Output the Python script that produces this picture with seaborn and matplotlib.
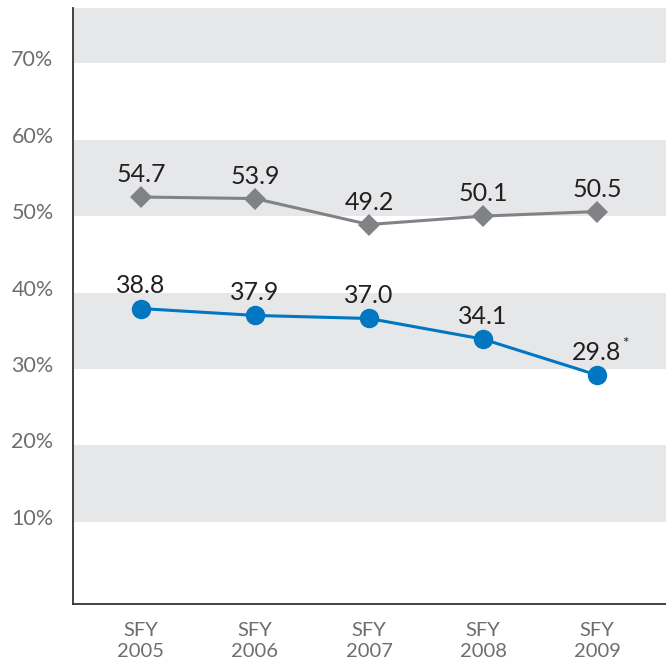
import matplotlib
matplotlib.use('Agg')
import matplotlib.pyplot as plt
import matplotlib.transforms as mtrans
import seaborn as sns
import pandas as pd

# Data
years = ['2005', '2006', '2007', '2008', '2009']
gray_labels = ['54.7', '53.9', '49.2', '50.1', '50.5']
gray_plotted = [52.5, 52.3, 48.9, 50.0, 50.6]   # where the markers sit in the picture
blue_labels = ['38.8', '37.9', '37.0', '34.1', '29.8']
blue_plotted = [37.9, 37.0, 36.6, 33.9, 29.2]
blue_notes = ['', '', '', '', '*']
y_ticks = [10, 20, 30, 40, 50, 60, 70]

GRAY = '#808285'
BLUE = '#0077c0'
BAND = '#e6e7e8'
TEXT = '#231f20'
TICK = '#6d6e71'

sns.set_theme(style='white')
plt.rcParams['font.family'] = ['Lato', 'DejaVu Sans']

df = pd.DataFrame({
    'pos': list(range(len(years))) * 2,
    'value': gray_plotted + blue_plotted,
    'series': ['gray'] * len(years) + ['blue'] * len(years),
})

fig = plt.figure(figsize=(6.66, 6.66), dpi=100)
ax = fig.add_axes([0.1096, 0.0931, 0.8904, 0.8949])

# alternating background bands
for lo in [10, 30, 50, 70]:
    ax.axhspan(lo, lo + 10, color=BAND, lw=0, zorder=0)

sns.lineplot(data=df[df.series == 'gray'], x='pos', y='value', color=GRAY,
             marker='D', markersize=11.5, markeredgewidth=0, linewidth=2.2,
             ax=ax, zorder=3)
sns.lineplot(data=df[df.series == 'blue'], x='pos', y='value', color=BLUE,
             marker='o', markersize=14, markeredgewidth=0, linewidth=2.2,
             ax=ax, zorder=3)

for i, (v, t) in enumerate(zip(gray_plotted, gray_labels)):
    ax.annotate(t, (i, v), xytext=(0, 16), textcoords='offset points',
                ha='center', va='center', fontsize=18, color=TEXT)
for i, (v, t, n) in enumerate(zip(blue_plotted, blue_labels, blue_notes)):
    ax.annotate(t, (i, v), xytext=(0, 16.5), textcoords='offset points',
                ha='center', va='center', fontsize=18, color=TEXT)
    if n:
        ax.annotate(n, (i, v), xytext=(20, 22), textcoords='offset points',
                    ha='center', va='center', fontsize=11, color=TEXT)

ax.set_xlim(-0.596, 4.605)
ax.set_ylim(-0.77, 77.24)
ax.set_xticks(range(len(years)))
ax.set_xticklabels(['SFY\n' + y for y in years], fontsize=14.5, color=TICK,
                   linespacing=1.25)
ax.set_yticks(y_ticks)
ax.set_yticklabels([f'{t}%' for t in y_ticks], fontsize=15.5, color=TICK)
ax.tick_params(axis='both', length=0)
ax.tick_params(axis='y', pad=14)
ax.tick_params(axis='x', pad=13)
shift = mtrans.ScaledTranslation(0, 5 / 100, fig.dpi_scale_trans)
for lab in ax.get_yticklabels():
    lab.set_transform(lab.get_transform() + shift)

ax.set_xlabel('')
ax.set_ylabel('')
sns.despine(ax=ax, top=True, right=True)
for side in ['left', 'bottom']:
    ax.spines[side].set_color('#333333')
    ax.spines[side].set_linewidth(1.3)
ax.grid(False)
ax.set_facecolor('white')

fig.savefig('out.png', dpi=100)
